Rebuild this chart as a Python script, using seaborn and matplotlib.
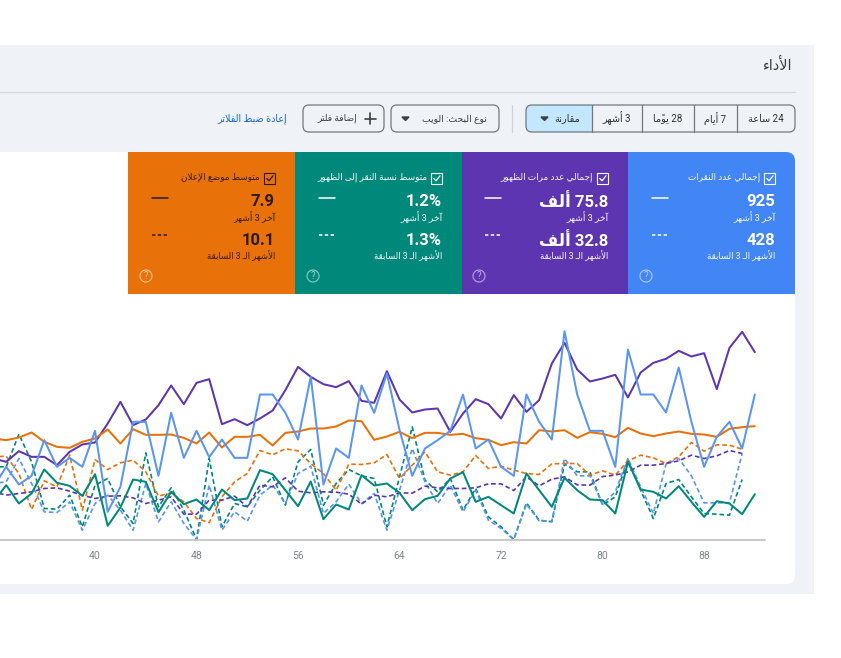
import numpy as np
import pandas as pd
import matplotlib
matplotlib.use("Agg")
import matplotlib.pyplot as plt
import seaborn as sns
from matplotlib.patches import Rectangle, FancyBboxPatch, Circle, Polygon

# values, hidden y scale
periods = list(range(32, 93))
tick_values = [40, 48, 56, 64, 72, 80, 88]

clicks_now = [158, 218, 165, 191, 298, 218, 245, 218, 326, 83, 158, 353, 353, 191, 380, 245, 326, 247, 300, 245, 245,
              435, 435, 380, 300, 488, 165, 273, 245, 462, 380, 498, 328, 191, 273, 298, 326, 435, 273, 300, 218, 191,
              435, 353, 300, 625, 435, 326, 326, 218, 570, 435, 435, 381, 516, 353, 218, 308, 353, 273, 435]
impressions_now = [243, 233, 265, 248, 248, 223, 263, 285, 291, 348, 413, 343, 360, 403, 462, 406, 470, 481, 346, 361,
                   343, 363, 387, 448, 518, 488, 466, 457, 475, 416, 410, 505, 420, 381, 390, 393, 323, 378, 421, 406,
                   363, 433, 383, 418, 528, 590, 510, 474, 483, 494, 426, 501, 530, 542, 566, 549, 559, 451, 575, 623,
                   562]
ctr_now = [113, 163, 108, 138, 210, 170, 161, 131, 196, 41, 96, 180, 173, 82, 143, 106, 120, 88, 150, 118, 123, 208,
           196, 148, 100, 174, 61, 105, 90, 193, 162, 168, 140, 88, 121, 131, 183, 202, 113, 128, 103, 78, 198, 148,
           98, 185, 148, 120, 118, 78, 233, 150, 143, 123, 160, 113, 68, 115, 108, 76, 136]
position_now = [303, 298, 306, 321, 293, 278, 275, 293, 303, 330, 288, 331, 314, 314, 315, 305, 288, 321, 276, 308,
                308, 314, 282, 320, 324, 333, 333, 339, 357, 355, 299, 309, 323, 304, 320, 320, 314, 317, 304, 299,
                283, 292, 288, 328, 324, 328, 305, 322, 317, 307, 335, 318, 310, 318, 324, 317, 315, 308, 332, 337,
                340]
clicks_prev = [168, 173, 243, 168, 83, 81, 113, 28, 108, 133, 88, 28, 168, 53, 113, 48, 0, 163, 28, 83, 55, 133, 163,
               108, 198, 220, 78, 113, 166, 108, 138, 28, 148, 273, 173, 108, 163, 83, 148, 58, 33, 0, 106, 56, 55,
               243, 191, 191, 106, 143, 243, 158, 78, 226, 243, 191, 110, 110, 110, 258]
impressions_prev = [143, 133, 138, 143, 153, 155, 145, 133, 123, 130, 131, 125, 108, 118, 128, 76, 76, 118, 118, 130,
                    98, 163, 158, 185, 145, 140, 143, 142, 136, 106, 133, 128, 140, 139, 160, 155, 153, 153, 155, 167,
                    167, 147, 188, 161, 181, 188, 164, 163, 189, 193, 203, 223, 223, 228, 236, 253, 243, 251, 267, 258]
ctr_prev = [218, 218, 316, 233, 93, 91, 133, 38, 163, 183, 98, 48, 260, 98, 155, 88, 0, 243, 38, 108, 98, 148, 188,
            103, 233, 270, 103, 168, 210, 191, 183, 38, 188, 338, 178, 143, 183, 88, 153, 68, 38, 0, 110, 58, 53, 226,
            203, 203, 103, 128, 240, 148, 63, 168, 180, 128, 78, 76, 73, 180]
position_prev = [248, 250, 198, 90, 176, 158, 253, 88, 240, 210, 230, 238, 203, 130, 140, 113, 63, 51, 128, 173, 198,
                 267, 254, 272, 266, 228, 198, 148, 226, 225, 230, 255, 183, 223, 263, 203, 193, 203, 252, 213, 220,
                 208, 198, 195, 227, 228, 228, 193, 206, 193, 236, 253, 245, 228, 248, 291, 265, 284, 283, 271]

card_titles = ["إجمالي عدد النقرات", "إجمالي عدد مرات الظهور", "متوسط نسبة النقر إلى الظهور", "متوسط موضع الإعلان"]
card_now = ["925", "75.8 ألف", "1.2%", "7.9"]
card_prev = ["428", "32.8 ألف", "1.3%", "10.1"]
label_now = "آخر 3 أشهر"
label_prev = "الأشهر الـ 3 السابقة"
range_labels = ["24 ساعة", "7 أيام", "28 يومًا", "3 أشهر", "مقارنة"]

BLUE, PURPLE, GREEN, ORANGE = "#4285f4", "#5e35b1", "#00897b", "#e8710a"
BG = "#eff3f8"
INK = "#3c4043"

# matplotlib does no Arabic joining or bidi, so pick the presentation forms here
DUAL = {"ئ": 0xFE89, "ب": 0xFE8F, "ت": 0xFE95, "ث": 0xFE99, "ج": 0xFE9D, "ح": 0xFEA1, "خ": 0xFEA5, "س": 0xFEB1,
        "ش": 0xFEB5, "ص": 0xFEB9, "ض": 0xFEBD, "ط": 0xFEC1, "ظ": 0xFEC5, "ع": 0xFEC9, "غ": 0xFECD, "ف": 0xFED1,
        "ق": 0xFED5, "ك": 0xFED9, "ل": 0xFEDD, "م": 0xFEE1, "ن": 0xFEE5, "ه": 0xFEE9, "ي": 0xFEF1}
RIGHT = {"آ": 0xFE81, "أ": 0xFE83, "ؤ": 0xFE85, "إ": 0xFE87, "ا": 0xFE8D, "ة": 0xFE93, "د": 0xFEA9, "ذ": 0xFEAB,
         "ر": 0xFEAD, "ز": 0xFEAF, "و": 0xFEED, "ى": 0xFEEF}
LAM_ALEF = {"آ": 0xFEF5, "أ": 0xFEF7, "إ": 0xFEF9, "ا": 0xFEFB}
KASHIDA = "\u0640"
MARK = "\u064b"
LTR = set("0123456789.%")


def shape(text):
    letters = []
    for ch in text:
        if ch == MARK and letters:
            letters[-1] += ch
        else:
            letters.append(ch)
    out = []
    joined = False
    i = 0
    while i < len(letters):
        ch = letters[i][0]
        mark = letters[i][1:]
        nxt = letters[i + 1][0] if i + 1 < len(letters) else ""
        if ch == "ل" and nxt in LAM_ALEF:
            out.append(chr(LAM_ALEF[nxt] + (1 if joined else 0)))
            joined = False
            i += 2
            continue
        if ch == KASHIDA:
            out.append(ch)
            joined = True
        elif ch in DUAL:
            goes_on = nxt in DUAL or nxt in RIGHT or nxt == KASHIDA
            form = {(False, False): 0, (True, False): 1, (False, True): 2, (True, True): 3}[(joined, goes_on)]
            out.append(chr(DUAL[ch] + form) + mark)
            joined = goes_on
        elif ch in RIGHT:
            out.append(chr(RIGHT[ch] + (1 if joined else 0)) + mark)
            joined = False
        else:
            out.append(ch + mark)
            joined = False
        i += 1
    # reverse for display, numbers keep their own order
    visual = []
    run = []
    for glyph in reversed(out):
        if glyph in LTR:
            run.append(glyph)
        else:
            visual.extend(reversed(run))
            run = []
            visual.append(glyph)
    visual.extend(reversed(run))
    return "".join(visual)


sns.set_theme(style="white")
plt.rcParams["font.family"] = ["Roboto", "DejaVu Sans"]

fig = plt.figure(figsize=(8.41, 6.58), dpi=100, facecolor="white")

# page furniture in pixel coordinates
ui = fig.add_axes([0, 0, 1, 1])
ui.set_xlim(0, 841)
ui.set_ylim(658, 0)
ui.axis("off")

ui.add_patch(Rectangle((-5, 45), 819, 549, color=BG, lw=0))
ui.add_patch(FancyBboxPatch((-30, 152), 825, 432, boxstyle="round,pad=0,rounding_size=9", fc="white", ec="none"))
ui.plot([0, 795], [92, 92], color="#d5d9de", lw=0.9)
ui.text(792, 65, shape("الأداء"), ha="right", va="center", fontsize=10.5, color=INK)

# range selector, the whole group shares one rounded outline
edges = [795, 737, 694, 642, 592, 526]
ui.add_patch(FancyBboxPatch((526, 105), 78, 27, boxstyle="round,pad=0,rounding_size=6", fc="#c2e7ff", ec="none"))
ui.add_patch(Rectangle((592, 105), 14, 27, fc=BG, ec="none"))
ui.add_patch(FancyBboxPatch((526, 105), 269, 27, boxstyle="round,pad=0,rounding_size=6", fc="none", ec="#74777a", lw=0.9))
for edge in edges[1:5]:
    ui.plot([edge, edge], [105, 132], color="#74777a", lw=0.9)
for i, label in enumerate(range_labels):
    center = (edges[i] + edges[i + 1]) / 2
    if i == 4:
        center += 8
    ui.text(center, 118.5, shape(label), ha="center", va="center", fontsize=7, color="#2f3235")
ui.add_patch(Polygon([[541, 117], [548, 117], [544.5, 120.5]], color=INK))
ui.plot([512, 512], [105, 132], color="#d0d3d6", lw=0.9)

ui.add_patch(FancyBboxPatch((391, 105), 108, 27, boxstyle="round,pad=0,rounding_size=6", fc=BG, ec="#74777a", lw=0.9))
ui.text(487, 118.5, shape("نوع البحث: الويب"), ha="right", va="center", fontsize=6.7, color=INK)
ui.add_patch(Polygon([[402, 117], [409, 117], [405.5, 120.5]], color=INK))

ui.add_patch(FancyBboxPatch((303, 105), 81, 27, boxstyle="round,pad=0,rounding_size=6", fc=BG, ec="#74777a", lw=0.9))
ui.text(357, 118.5, shape("إضافة فلتر"), ha="right", va="center", fontsize=6.6, color=INK)
ui.plot([365, 376], [118.5, 118.5], color=INK, lw=1.2)
ui.plot([370.5, 370.5], [113, 124], color=INK, lw=1.2)
ui.text(287, 118.5, shape("إعادة ضبط الفلاتر"), ha="right", va="center", fontsize=6.9, color="#1a66d6")

# metric cards
card_left = [628, 462, 295, 128]
card_right = [795, 628, 462, 295]
card_color = [BLUE, PURPLE, GREEN, ORANGE]
card_ink = ["white", "white", "white", "#2b1a08"]
ui.add_patch(Rectangle((628, 160), 167, 134, fc=BLUE, ec="none"))
ui.add_patch(FancyBboxPatch((700, 152), 95, 40, boxstyle="round,pad=0,rounding_size=9", fc=BLUE, ec="none"))
ui.add_patch(Rectangle((628, 152), 120, 20, fc=BLUE, ec="none"))
for i in range(4):
    left, right, ink = card_left[i], card_right[i], card_ink[i]
    if i > 0:
        ui.add_patch(Rectangle((left, 152), right - left, 142, fc=card_color[i], ec="none"))
    off = 795 - right
    ui.add_patch(Rectangle((764.5 - off, 173), 10.5, 10.5, fc="none", ec=ink, lw=0.8))
    ui.plot([766.8 - off, 769 - off, 773 - off], [178.5, 180.8, 175.8], color=ink, lw=0.9)
    ui.text(760 - off, 177.5, shape(card_titles[i]), ha="right", va="center", fontsize=6.4, color=ink, alpha=0.95)
    ui.text(775 - off, 202, shape(card_now[i]), ha="right", va="center", fontsize=12, fontweight="bold", color=ink)
    ui.text(775.5 - off, 217, shape(label_now), ha="right", va="center", fontsize=6.6, color=ink, alpha=0.95)
    ui.text(775 - off, 240.5, shape(card_prev[i]), ha="right", va="center", fontsize=12, fontweight="bold", color=ink)
    ui.text(775.5 - off, 256, shape(label_prev), ha="right", va="center", fontsize=6.2, color=ink, alpha=0.95)
    ui.plot([652 - off, 668 - off], [198, 198], color=ink, lw=1.1)
    ui.plot([652 - off, 668 - off], [235, 235], color=ink, lw=1.1, dashes=(2.2, 1.6))
    ui.add_patch(Circle((646 - off, 276), 6, fc="none", ec="white", lw=0.8, alpha=0.55))
    ui.text(646 - off, 276.3, "?", ha="center", va="center", fontsize=7, color="white", alpha=0.6)

# line chart, x scale and baseline placed to line up with the page
ax = fig.add_axes([0, (658 - 539.5) / 658, 765 / 841, 240 / 658])
ax.patch.set_alpha(0)

series = [
    (ctr_prev, GREEN, (0, (2.8, 1.7))),
    (clicks_prev, "#5a95f5", (0, (2.8, 1.7))),
    (position_prev, ORANGE, (0, (2.8, 1.7))),
    (impressions_prev, PURPLE, (0, (2.8, 1.7))),
    (ctr_now, GREEN, "-"),
    (impressions_now, PURPLE, "-"),
    (position_now, ORANGE, "-"),
    (clicks_now, "#5a95f5", "-"),
]
for values, color, style in series:
    df = pd.DataFrame({"period": periods[:len(values)], "value": values})
    sns.lineplot(data=df, x="period", y="value", color=color, linestyle=style,
                 linewidth=1.45 if style == "-" else 1.2, errorbar=None, clip_on=True, ax=ax)

ax.set_xlim(32.51, 92.8)
ax.set_ylim(0, 720)
ax.set_xlabel("")
ax.set_ylabel("")
ax.set_yticks([])
ax.set_xticks(tick_values)
ax.tick_params(axis="x", length=0, pad=8, labelsize=7.5, labelcolor="#80868b")
sns.despine(ax=ax, left=True)
ax.spines["bottom"].set_color("#b8babc")
ax.spines["bottom"].set_linewidth(1.1)

fig.savefig("out.png", dpi=100, facecolor="white")
